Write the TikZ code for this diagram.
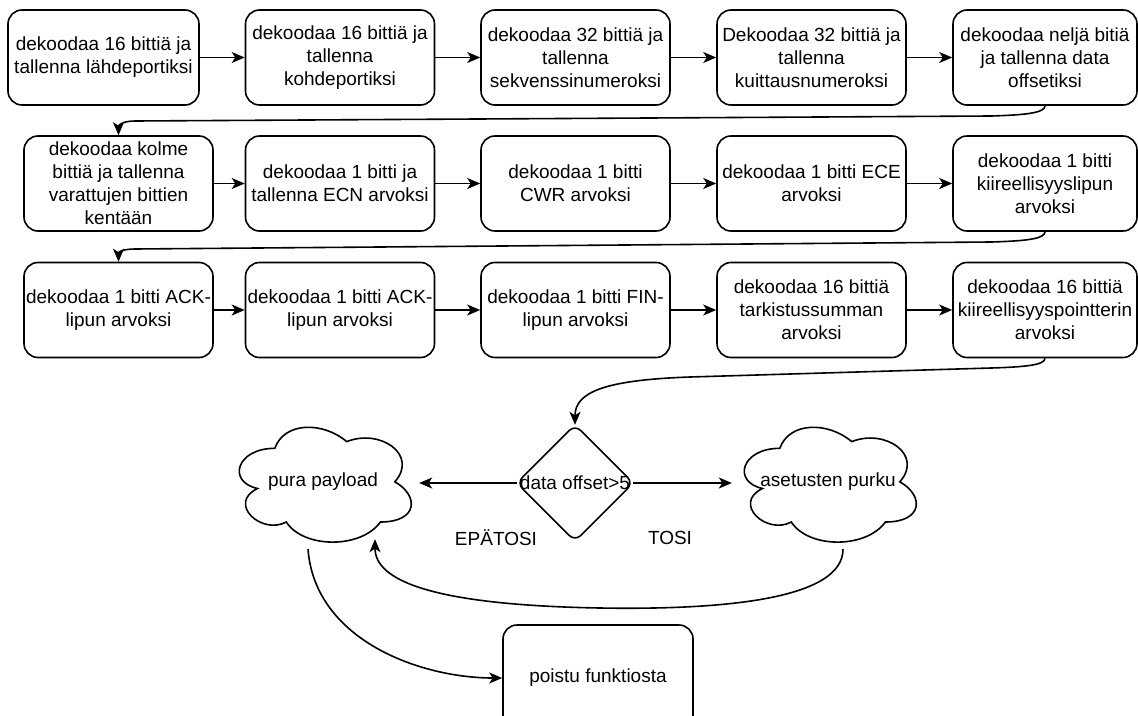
\documentclass[tikz,border=0pt]{standalone}
\usepackage{fontspec}
\setmainfont{Liberation Sans}
\usetikzlibrary{arrows.meta,calc}

\tikzset{
  txt/.style={font=\fontsize{19}{23}\selectfont},
  stepbox/.style={txt, draw, line width=1.6pt, rounded corners=14pt,
    minimum width=189pt, minimum height=95pt, inner sep=0pt, align=center},
  lastbox/.style={stepbox, minimum width=184pt},
  firstbox/.style={stepbox, minimum width=191pt},
  frame/.style={txt, inner sep=0pt, align=center},
  outline/.style={line width=1.6pt},
  conn/.style={line width=1.6pt, -{Stealth[length=13pt,width=11pt,inset=3.5pt]}},
}

% cloud outline drawn inside the frame of a named node (192 x 134)
\newcommand\cloudat[1]{%
  \draw[outline, shift={(#1.north west)}, x=192pt, y=-134pt]
    (0.25,0.25) .. controls (0.05,0.25) and (0,0.5) .. (0.16,0.55)
    .. controls (0,0.66) and (0.18,0.9) .. (0.31,0.8)
    .. controls (0.4,1) and (0.7,1) .. (0.8,0.8)
    .. controls (1,0.8) and (1,0.6) .. (0.875,0.5)
    .. controls (1,0.3) and (0.8,0.1) .. (0.625,0.2)
    .. controls (0.5,0.05) and (0.3,0.05) .. (0.25,0.25) -- cycle;}

\begin{document}
\begin{tikzpicture}[x=1pt, y=-1pt]
\path[use as bounding box] (0,0) rectangle (1138,715);

% first row
\node[firstbox] (r1c1) at (103.5,57.5) {dekoodaa 16 bittiä ja\\tallenna lähdeportiksi};
\node[stepbox] (r1c2) at (340,57.5) {dekoodaa 16 bittiä ja\\tallenna\\kohdeportiksi};
\node[stepbox] (r1c3) at (575.5,57.5) {dekoodaa 32 bittiä ja\\tallenna\\sekvenssinumeroksi};
\node[stepbox] (r1c4) at (811.5,57.5) {Dekoodaa 32 bittiä ja\\tallenna\\kuittausnumeroksi};
\node[lastbox] (r1c5) at (1045,57.5) {dekoodaa neljä bitiä\\ja tallenna data\\offsetiksi};

% second row
\node[stepbox] (r2c1) at (118.5,183.5) {dekoodaa kolme\\bittiä ja tallenna\\varattujen bittien\\kentään};
\node[stepbox] (r2c2) at (340,183.5) {dekoodaa 1 bitti ja\\tallenna ECN arvoksi};
\node[stepbox] (r2c3) at (575.5,183.5) {dekoodaa 1 bitti\\CWR arvoksi};
\node[stepbox] (r2c4) at (811.5,183.5) {dekoodaa 1 bitti ECE\\arvoksi};
\node[lastbox] (r2c5) at (1045,183.5) {dekoodaa 1 bitti\\kiireellisyyslipun\\arvoksi};

% third row
\node[stepbox] (r3c1) at (118.5,310) {dekoodaa 1 bitti ACK-\\lipun arvoksi};
\node[stepbox] (r3c2) at (340,310) {dekoodaa 1 bitti ACK-\\lipun arvoksi};
\node[stepbox] (r3c3) at (575.5,310) {dekoodaa 1 bitti FIN-\\lipun arvoksi};
\node[stepbox] (r3c4) at (811.5,310) {dekoodaa 16 bittiä\\tarkistussumman\\arvoksi};
\node[lastbox] (r3c5) at (1045,310) {dekoodaa 16 bittiä\\kiireellisyyspointterin\\arvoksi};

% decision and its branches
\node[frame, minimum width=116pt, minimum height=116pt] (dia) at (575,483) {data offset>5};
\draw[outline, rounded corners=8pt] (dia.north) -- (dia.east) -- (dia.south) -- (dia.west) -- cycle;

\node[frame, minimum width=192pt, minimum height=134pt] (lc) at (323,482) {pura payload};
\cloudat{lc}
\node[frame, minimum width=192pt, minimum height=134pt] (rc) at (828,482) {asetusten purku};
\cloudat{rc}

\node[stepbox, minimum width=190pt, minimum height=106pt] (exit) at (598,678) {poistu funktiosta};

\node[frame] (no) at (496,538) {EPÄTOSI};
\node[frame] (yes) at (670,538) {TOSI};

% arrows along the rows
\foreach \r in {1,2,3}{
  \foreach \a/\b in {1/2,2/3,3/4,4/5}{
    \draw[conn] (r\r c\a.east) -- (r\r c\b.west |- r\r c\a.east);
  }
}

% wrap-around connectors
\draw[conn] (r1c5.south) .. controls (1045,113) and (1025,115) .. (991,116)
  -- (135,121) .. controls (123,121) and (118.5,125) .. (r2c1.north);
\draw[conn] (r2c5.south) .. controls (1045,239) and (1025,241) .. (991,242)
  -- (135,249) .. controls (123,249) and (118.5,252) .. (r3c1.north);
\draw[conn] (r3c5.south) .. controls (1045,365) and (1025,367) .. (991,368)
  -- (690,377) .. controls (605,380) and (575,392) .. (dia.north);

% decision branches
\draw[conn] (dia.west) -- (lc.east |- dia.west);
\draw[conn] (dia.east) -- (rc.west |- dia.east);

% back from the options to the payload, then out
\draw[conn] ($(rc.south)+(15,0)$) .. controls (843,600) and (720,610) .. (600,608)
  .. controls (430,605) and (375,580) .. ($(lc.south)+(52,-10)$);
\draw[conn] ($(lc.south)+(-15,0)$) .. controls (315,640) and (420,678) .. (exit.west);
\end{tikzpicture}
\end{document}
